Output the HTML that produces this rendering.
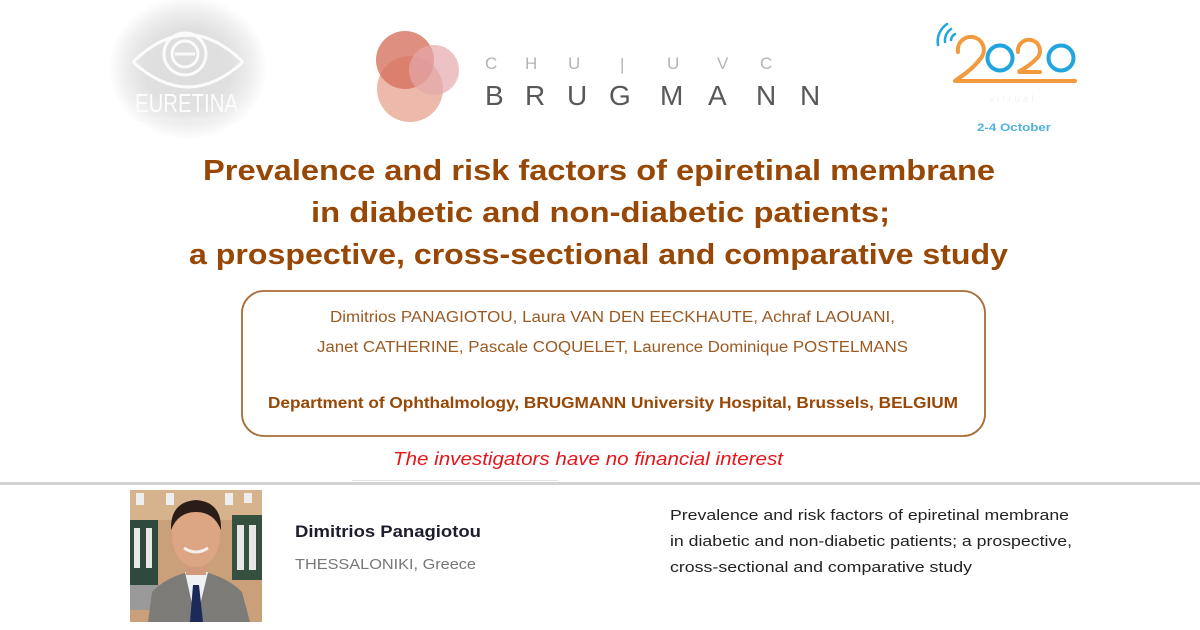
<!DOCTYPE html>
<html>
<head>
<meta charset="utf-8">
<style>
  html,body{margin:0;padding:0;background:#fff;}
  body{width:1200px;height:630px;overflow:hidden;}
  svg{display:block;}
  .cal{font-family:"Liberation Sans",sans-serif;}
</style>
</head>
<body>
<svg width="1200" height="630" viewBox="0 0 1200 630" xmlns="http://www.w3.org/2000/svg">
  <defs>
    <radialGradient id="glow" cx="50%" cy="50%" r="50%">
      <stop offset="0" stop-color="#dcdcdc"/>
      <stop offset="0.55" stop-color="#e0e0e0"/>
      <stop offset="0.8" stop-color="#efefef"/>
      <stop offset="1" stop-color="#ffffff"/>
    </radialGradient>
  </defs>

  <rect width="1200" height="630" fill="#fff"/>

  <!-- EURETINA logo -->
  <ellipse cx="188" cy="68" rx="80" ry="72" fill="url(#glow)"/>
  <g stroke="#fbfbfb" fill="none" stroke-width="3">
    <path d="M133 62 Q188 8 243 62"/>
    <path d="M133 62 Q188 112 243 62"/>
    <circle cx="185" cy="54" r="21"/>
    <circle cx="185" cy="54" r="13"/>
    <path d="M175 54 h20" />
  </g>
  <text x="135" y="112" class="cal" font-size="26" fill="#fcfcfc" textLength="103" lengthAdjust="spacingAndGlyphs">EURETINA</text>
  <text x="136" y="121" class="cal" font-size="5" fill="#f4f4f4" textLength="100" lengthAdjust="spacingAndGlyphs">European Society of Retina Specialists</text>

  <!-- Brugmann circles -->
  <g style="mix-blend-mode:multiply">
    <circle cx="410" cy="89" r="33" fill="#e9ad9c" opacity="0.85"/>
    <circle cx="405" cy="60" r="29" fill="#d7735f" opacity="0.8"/>
    <circle cx="434" cy="70" r="25" fill="#e6a8ab" opacity="0.7"/>
  </g>
  <!-- CHU | UVC -->
  <g class="cal" font-size="17" fill="#b4b4b4">
    <text x="485" y="69">C</text>
    <text x="525" y="69">H</text>
    <text x="568" y="69">U</text>
    <text x="620" y="70">|</text>
    <text x="667" y="69">U</text>
    <text x="717" y="69">V</text>
    <text x="760" y="69">C</text>
  </g>
  <g class="cal" font-size="28" fill="#585858">
    <text x="485" y="105">B</text>
    <text x="525" y="105">R</text>
    <text x="567" y="105">U</text>
    <text x="609" y="105">G</text>
    <text x="660" y="105">M</text>
    <text x="708" y="105">A</text>
    <text x="756" y="105">N</text>
    <text x="800" y="105">N</text>
  </g>

  <!-- 2020 logo -->
  <g fill="none" stroke-linecap="round" stroke-width="4">
    <path d="M955 81 H1075" stroke="#f39a3e"/>
    <path d="M958 52 A13 13 0 1 1 981 58 Q972 70 956 80" stroke="#f39a3e"/>
    <circle cx="1000" cy="58" r="12.5" stroke="#22a4df"/>
    <path d="M1018 52 A11 11 0 1 1 1038 57 Q1030 66 1018 72 H1040" stroke="#f39a3e"/>
    <circle cx="1061" cy="58" r="12.5" stroke="#22a4df"/>
    <g stroke="#22a4df" stroke-width="2.5">
      <path d="M951 40 A8 8 0 0 1 955 34"/>
      <path d="M945 42 A14 14 0 0 1 951 29"/>
      <path d="M938 45 A21 21 0 0 1 947 24"/>
    </g>
  </g>
  <text x="989" y="102" class="cal" font-size="10" fill="#f3f3f3" letter-spacing="3">virtual</text>
  <text x="977" y="131" class="cal" font-size="11" font-weight="bold" fill="#4fb2dc" textLength="74" lengthAdjust="spacingAndGlyphs">2-4 October</text>

  <!-- Title -->
  <g class="cal" font-weight="bold" font-size="29" fill="#984806" text-anchor="start">
    <text x="203" y="180" textLength="792" lengthAdjust="spacingAndGlyphs">Prevalence and risk factors of epiretinal membrane</text>
    <text x="311" y="222" textLength="579" lengthAdjust="spacingAndGlyphs">in diabetic and non-diabetic patients;</text>
    <text x="189" y="264" textLength="819" lengthAdjust="spacingAndGlyphs">a prospective, cross-sectional and comparative study</text>
  </g>

  <!-- Authors box -->
  <rect x="242" y="291" width="743" height="145" rx="22" ry="22" fill="#fff" stroke="#a86c38" stroke-width="1.8"/>
  <g class="cal" font-size="15.5" fill="#9a5a22">
    <text x="330" y="322" textLength="565" lengthAdjust="spacingAndGlyphs">Dimitrios PANAGIOTOU, Laura VAN DEN EECKHAUTE, Achraf LAOUANI,</text>
    <text x="317" y="352" textLength="591" lengthAdjust="spacingAndGlyphs">Janet CATHERINE, Pascale COQUELET, Laurence Dominique POSTELMANS</text>
  </g>
  <text x="268" y="408" class="cal" font-size="16" font-weight="bold" fill="#984806" textLength="690" lengthAdjust="spacingAndGlyphs">Department of Ophthalmology, BRUGMANN University Hospital, Brussels, BELGIUM</text>

  <!-- Red text -->
  <text x="393" y="465" class="cal" font-size="18" font-style="italic" fill="#e5161b" textLength="390" lengthAdjust="spacingAndGlyphs">The investigators have no financial interest</text>

  <!-- separators -->
  <rect x="352" y="480" width="206" height="1" fill="#e3e3e3"/>
  <rect x="0" y="482" width="1200" height="3" fill="#d2d2d2"/>

  <!-- Photo -->
  <g>
    <clipPath id="pc"><rect x="130" y="490" width="132" height="132"/></clipPath>
    <g clip-path="url(#pc)">
      <rect x="130" y="490" width="132" height="132" fill="#c9a07a"/>
      <rect x="130" y="490" width="132" height="30" fill="#d6b38c"/>
      <rect x="136" y="493" width="8" height="12" fill="#eee"/>
      <rect x="166" y="493" width="8" height="12" fill="#eee"/>
      <rect x="225" y="493" width="8" height="12" fill="#eee"/>
      <rect x="244" y="493" width="8" height="10" fill="#eee"/>
      <rect x="130" y="520" width="28" height="70" fill="#2e4a3c"/>
      <rect x="134" y="528" width="6" height="40" fill="#e8e8e8"/>
      <rect x="146" y="528" width="6" height="40" fill="#e8e8e8"/>
      <rect x="232" y="515" width="30" height="65" fill="#35503f"/>
      <rect x="237" y="525" width="7" height="45" fill="#e6e6e6"/>
      <rect x="249" y="525" width="7" height="45" fill="#e6e6e6"/>
      <rect x="130" y="585" width="35" height="25" fill="#9a9a9a"/>
      <path d="M148 622 L152 592 Q165 578 188 572 L205 572 Q228 578 242 592 L250 622 Z" fill="#7d7b78"/>
      <path d="M185 572 L196 622 L208 572 Z" fill="#eef0f4"/>
      <path d="M193 585 L199 585 L203 622 L190 622 Z" fill="#1b2a58"/>
      <rect x="186" y="555" width="20" height="20" fill="#d29a7a"/>
      <ellipse cx="196" cy="536" rx="24" ry="31" fill="#dca584"/>
      <path d="M171 530 Q170 502 196 500 Q222 502 221 530 Q214 512 196 512 Q178 512 171 530 Z" fill="#2a1d17"/>
      <path d="M184 548 Q196 556 208 548" stroke="#f5f0ea" stroke-width="3" fill="none"/>
    </g>
  </g>

  <!-- Speaker -->
  <text x="295" y="537" class="cal" font-size="17" font-weight="bold" fill="#1d1d2d" textLength="186" lengthAdjust="spacingAndGlyphs">Dimitrios Panagiotou</text>
  <text x="295" y="569" class="cal" font-size="15" fill="#777" textLength="181" lengthAdjust="spacingAndGlyphs">THESSALONIKI, Greece</text>

  <!-- Right description -->
  <g class="cal" font-size="15" fill="#222">
    <text x="670" y="520" textLength="399" lengthAdjust="spacingAndGlyphs">Prevalence and risk factors of epiretinal membrane</text>
    <text x="670" y="546" textLength="402" lengthAdjust="spacingAndGlyphs">in diabetic and non-diabetic patients; a prospective,</text>
    <text x="670" y="572" textLength="302" lengthAdjust="spacingAndGlyphs">cross-sectional and comparative study</text>
  </g>
</svg>
</body>
</html>
